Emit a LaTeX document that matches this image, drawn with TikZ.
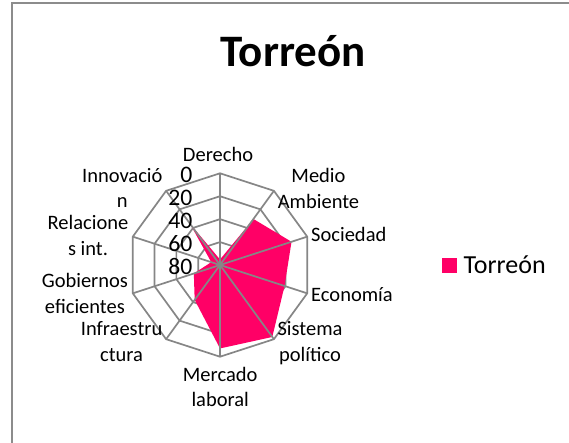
\documentclass[tikz,border=0pt]{standalone}
\usepackage{fontspec}
\setmainfont{Carlito}
\usetikzlibrary{calc}
\definecolor{pinkc}{HTML}{FF0066}
\definecolor{gridc}{HTML}{868686}
\definecolor{framec}{HTML}{8C8C8C}
\tikzset{
  gridline/.style={draw=gridc, line width=1.7pt, line join=miter},
  catlab/.style={inner sep=0pt, anchor=base, font=\fontsize{20.5}{24}\selectfont},
  ticklab/.style={inner sep=0pt, anchor=east, font=\fontsize{23.7}{28}\selectfont},
}
\begin{document}
\begin{tikzpicture}[x=1pt,y=-1pt]
\useasboundingbox (0,0) rectangle (569,443);
\fill[white] (0,0) rectangle (569,443);
% frame
\draw[framec, line width=2pt] (580,3.5) -- (11.8,3.5) -- (11.8,460);
% title
\node[inner sep=0pt, anchor=base, font=\fontsize{45}{50}\selectfont\bfseries] (title) at (293,66.7) {Torreón};
% radar
\begin{scope}[shift={(220,265)}]
  \coordinate (ctr) at (0,0);
  \foreach \f in {0.25,0.5,0.75,1}{
    \draw[gridline] (-90:\f*91.7) \foreach \k in {1,...,9}{ -- ({36*\k-90}:\f*91.7) } -- cycle;
  }
  \fill[pinkc] (-90:0.06*91.7) -- (-54:0.62*91.7) -- (-18:0.82*91.7) -- (18:0.74*91.7)
     -- (54:0.97*91.7) -- (90:0.91*91.7) -- (126:0.47*91.7) -- (162:0.30*91.7)
     -- (198:0.10*91.7) -- (234:0.56*91.7) -- cycle;
  \foreach \k in {0,...,9}{
    \coordinate (v\k) at ({36*\k-90}:91.7);
    \draw[gridline] (ctr) -- (v\k);
  }
\end{scope}
% tick labels
\node[ticklab] (t0) at (192.5,175.3) {0};
\node[ticklab] (t20) at (192.5,198.2) {20};
\node[ticklab] (t40) at (192.5,221.1) {40};
\node[ticklab] (t60) at (192.5,244.0) {60};
\node[ticklab] (t80) at (192.5,266.9) {80};
% category labels
\node[catlab] (derecho) at (218,162) {Derecho};
\node[catlab] (medio1) at (318.5,182.3) {Medio};
\node[catlab] (medio2) at (318.5,208.3) {Ambiente};
\node[catlab, anchor=base west] (sociedad) at (311,241.7) {Sociedad};
\node[catlab, anchor=base west] (economia) at (311,301) {Economía};
\node[catlab] (sistema1) at (310,335) {Sistema};
\node[catlab] (sistema2) at (310,361.7) {político};
\node[catlab] (mercado1) at (220.2,381) {Mercado};
\node[catlab] (mercado2) at (220.2,406.7) {laboral};
\node[catlab] (infra1) at (121.6,335) {Infraestru};
\node[catlab] (infra2) at (121.6,361.7) {ctura};
\node[catlab] (gob1) at (84.9,287.7) {Gobiernos};
\node[catlab] (gob2) at (84.9,313.3) {eficientes};
\node[catlab] (rel1) at (88,229.3) {Relacione};
\node[catlab] (rel2) at (88,255) {s int.};
\node[catlab] (innov1) at (122.3,182.3) {Innovació};
\node[catlab] (innov2) at (122.3,207.7) {n};
% legend
\fill[pinkc] (442.3,258.3) rectangle (457.3,273.3);
\node[inner sep=0pt, anchor=base west, font=\fontsize{26}{30}\selectfont] (legend) at (463.3,273.3) {Torreón};
\end{tikzpicture}
\end{document}
